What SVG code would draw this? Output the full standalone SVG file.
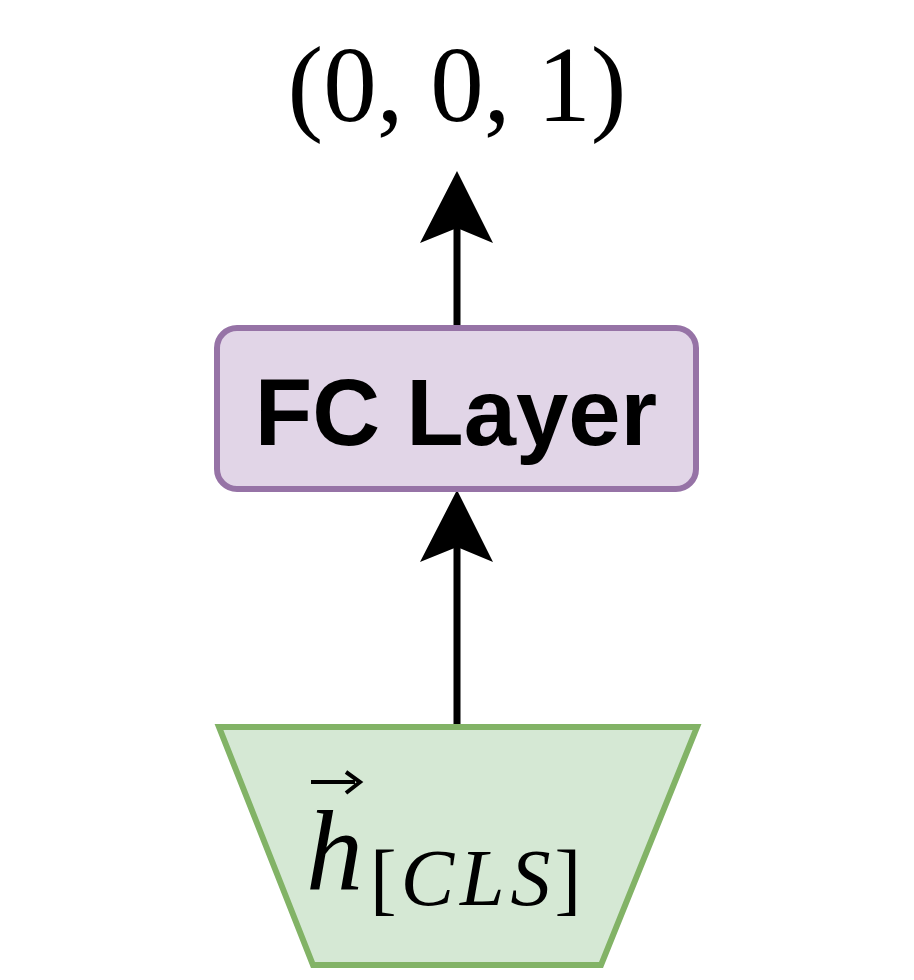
<svg xmlns="http://www.w3.org/2000/svg" width="914" height="980" viewBox="0 0 914 980">
<style>
.conn{stroke:#000;stroke-width:7;fill:none}
.head{fill:#000;stroke:none}
.serif{font-family:"Liberation Serif","Times New Roman",serif;fill:#000}
</style>
<rect width="914" height="980" fill="#fff"/>
<g id="connectors">
<line class="conn" x1="457" y1="327" x2="457" y2="225"/>
<polygon class="head" points="457,171 420,243 457,228 493,243"/>
<line class="conn" x1="457" y1="724" x2="457" y2="544"/>
<polygon class="head" points="457,490 420,562 457,547 493,562"/>
</g>
<g id="output">
<text class="serif" x="457" y="121" font-size="107" text-anchor="middle">(0, 0, 1)</text>
</g>
<g id="fc-layer">
<rect x="217" y="328" width="479" height="161" rx="20" fill="#e1d5e7" stroke="#9673a6" stroke-width="6"/>
<text x="456" y="445" font-family="'Liberation Sans',Arial,sans-serif" font-weight="bold" font-size="94" text-anchor="middle" fill="#000">FC Layer</text>
</g>
<g id="h-cls">
<polygon points="219,727 697,727 601,965 313,965" fill="#d5e8d4" stroke="#82b366" stroke-width="6"/>
<path d="M311,782 H355" stroke="#000" stroke-width="4"/>
<path d="M346,772 L360,782 L346,793" stroke="#000" stroke-width="4" fill="none"/>
<text class="serif" x="306" y="890" font-size="114" font-style="italic">h</text>
<text class="serif" x="370" y="905" font-size="80"><tspan>[</tspan><tspan font-style="italic" dx="4" letter-spacing="6">CLS</tspan><tspan dx="-2">]</tspan></text>
</g>
</svg>
